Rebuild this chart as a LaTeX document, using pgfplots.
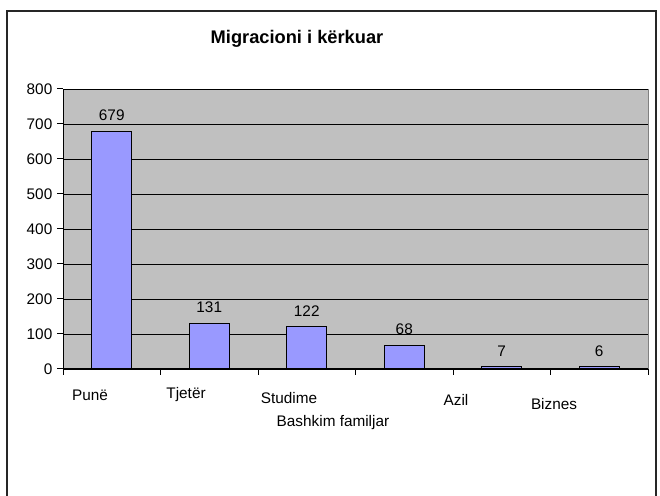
\documentclass[border=0pt]{standalone}
\usepackage{fontspec}
\setmainfont{Liberation Sans}
\usepackage{pgfplots}
\pgfplotsset{compat=1.18}
\definecolor{barfill}{HTML}{9999FF}
\definecolor{plotbg}{HTML}{C0C0C0}
\begin{document}
\begin{tikzpicture}[x=0.75pt,y=0.75pt]
\begin{pgfinterruptboundingbox}
\begin{axis}[
  name=ax,
  scale only axis, width=438.75pt, height=210pt,
  xmin=-0.5, xmax=5.5, ymin=0, ymax=800,
  ytick={0,100,...,800},
  xtick={-0.5,0.5,...,5.5}, xticklabels={},
  axis x line*=bottom, axis y line*=left,
  axis line style={-, black, line width=0.75pt},
  tick style={black, line width=0.75pt},
  tick align=outside, major tick length=4.5pt,
  axis background/.style={fill=plotbg, draw=black!50},
  ymajorgrids, major grid style={black, line width=0.6pt},
  /pgf/number format/assume math mode=true,
  yticklabel style={font=\fontsize{11.5}{13}\selectfont},
  nodes near coords,
  every node near coord/.append style={font=\fontsize{11.5}{13}\selectfont, yshift=4pt},
  clip=false,
]
\coordinate (bbsw) at (rel axis cs:-0.10769,-0.45357);
\coordinate (bbne) at (rel axis cs:1.02051,1.31786);
\coordinate (frsw) at (rel axis cs:-0.09573,-0.46);
\coordinate (frne) at (rel axis cs:1.01368,1.27857);
\coordinate (ttl) at (rel axis cs:0.40000,1.17857);
\addplot[ybar, bar width=30pt, bar shift=0pt, fill=barfill, draw=black, line width=0.75pt]
  coordinates {(0,679) (1,131) (2,122) (3,68) (4,7) (5,6)};
\node[font=\fontsize{11.5}{13}\selectfont, yshift=-19.5pt] at (axis cs:-0.223,0) {Punë};
\node[font=\fontsize{11.5}{13}\selectfont, yshift=-19.5pt] at (axis cs:0.762,0) {Tjetër};
\node[font=\fontsize{11.5}{13}\selectfont, yshift=-21.75pt] at (axis cs:1.818,0) {Studime};
\node[font=\fontsize{11.5}{13}\selectfont, yshift=-40.5pt] at (axis cs:2.269,0) {Bashkim familjar};
\node[font=\fontsize{11.5}{13}\selectfont, yshift=-23.25pt] at (axis cs:3.531,0) {Azil};
\node[font=\fontsize{11.5}{13}\selectfont, yshift=-26.25pt] at (axis cs:4.536,0) {Biznes};
\end{axis}
\end{pgfinterruptboundingbox}
\useasboundingbox (bbsw) rectangle (bbne);
\draw[line width=1.3pt, black!85] (frsw) -- (frsw|-frne) -- (frne) -- (frne|-frsw);
\node[font=\fontsize{13.7}{16}\selectfont\bfseries] at (ttl) {Migracioni i kërkuar};
\end{tikzpicture}
\end{document}
